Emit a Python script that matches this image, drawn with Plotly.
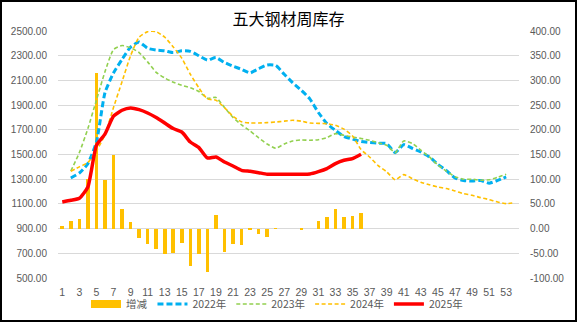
import plotly.graph_objects as go

weeks_2022 = list(range(2, 54))
inv_2022 = [1310, 1350, 1426, 1600, 2000, 2160, 2270, 2370, 2410, 2360, 2345, 2340, 2325,
            2340, 2335, 2300, 2265, 2285, 2245, 2215, 2190, 2160, 2195, 2225, 2222, 2150,
            2080, 2020, 1950, 1840, 1750, 1695, 1645, 1625, 1605, 1597, 1592, 1588, 1515,
            1580, 1550, 1520, 1480, 1420, 1370, 1310, 1290, 1285, 1290, 1268, 1290, 1318]

weeks_2023 = list(range(2, 54))
inv_2023 = [1366, 1515, 1710, 1940, 2170, 2350, 2382, 2365, 2325, 2250, 2165, 2120, 2085,
            2060, 2040, 2010, 1955, 1962, 1880, 1800, 1740, 1690, 1635, 1585, 1550, 1585,
            1610, 1618, 1615, 1620, 1637, 1669, 1655, 1642, 1630, 1615, 1595, 1575, 1515,
            1610, 1590, 1535, 1480, 1415, 1365, 1320, 1300, 1300, 1292, 1295, 1315, 1340]

weeks_2024 = list(range(2, 55))
inv_2024 = [1365, 1400, 1435, 1530, 1660, 1880, 2090, 2300, 2450, 2495, 2495, 2450, 2371,
            2280, 2150, 2040, 1950, 1940, 1880, 1810, 1765, 1755, 1755, 1758, 1763, 1770,
            1777, 1770, 1755, 1752, 1750, 1736, 1705, 1650, 1540, 1480, 1410, 1360, 1295,
            1337, 1305, 1275, 1255, 1237, 1224, 1205, 1183, 1170, 1151, 1135, 1115, 1102, 1110]

weeks_2025 = list(range(1, 37))
inv_2025 = [1115, 1129, 1145, 1237, 1574, 1665, 1810, 1858, 1877, 1863, 1836, 1799, 1755,
            1710, 1682, 1601, 1556, 1472, 1480, 1439, 1407, 1372, 1364, 1353, 1340, 1340,
            1340, 1340, 1340, 1342, 1361, 1386, 1426, 1453, 1467, 1502]
change_2025 = [5, 16, 19, 101, 316, 99, 150, 40, 13, -19, -31, -41, -51, -49, -30, -76, -51,
               -88, 27, -47, -32, -33, -3, -10, -17, 1, 0, 0, -1, 0, 16, 23, 39, 24, 25, 31]

x_ticks = list(range(1, 54, 2))
left_ticks = list(range(500, 2501, 200))
right_ticks = list(range(-100, 401, 50))

title_text = "五大钢材周库存"
names = ["增减", "2022年", "2023年", "2024年", "2025年"]

GRAY = "#595959"
BAR_COLOR = "#FFC000"
fig = go.Figure()

fig.add_trace(go.Bar(x=weeks_2025, y=change_2025, name=names[0], marker_color=BAR_COLOR,
                     marker_line_width=0, width=0.42, yaxis="y", showlegend=False))
# legend-only entry giving the wide rectangle key of the column series
fig.add_trace(go.Scatter(x=[None], y=[None], name=names[0], mode="lines", yaxis="y",
                         line=dict(color=BAR_COLOR, width=8)))
fig.add_trace(go.Scatter(x=weeks_2022, y=inv_2022, name=names[1], mode="lines", yaxis="y2",
                         line=dict(color="#00B0F0", width=3, dash="6px,3px", shape="spline", smoothing=0.5)))
fig.add_trace(go.Scatter(x=weeks_2023, y=inv_2023, name=names[2], mode="lines", yaxis="y2",
                         line=dict(color="#92D050", width=1.6, dash="4px,2.5px", shape="spline", smoothing=0.5)))
fig.add_trace(go.Scatter(x=weeks_2024, y=inv_2024, name=names[3], mode="lines", yaxis="y2",
                         line=dict(color="#FFC000", width=1.6, dash="4px,2.5px", shape="spline", smoothing=0.5)))
fig.add_trace(go.Scatter(x=weeks_2025, y=inv_2025, name=names[4], mode="lines", yaxis="y2",
                         line=dict(color="#FF0000", width=3.5, shape="spline", smoothing=0.5)))

ML, MR, MT, MB = 58, 58, 31, 44
W, H = 577, 322
PW, PH = W - ML - MR, H - MT - MB

fig.update_layout(
    width=W, height=H,
    margin=dict(l=ML, r=MR, t=MT, b=MB, pad=0, autoexpand=False),
    paper_bgcolor="white", plot_bgcolor="white",
    font=dict(family="Liberation Sans", size=10, color=GRAY),
    title=dict(text=title_text, x=0.5, xanchor="center", y=1 - 19 / H, yanchor="middle",
               font=dict(family="Noto Sans CJK SC", size=16, color="black")),
    showlegend=True,
    legend=dict(orientation="h", x=0.475, xanchor="center", y=-(303 - 277) / PH, yanchor="middle",
                font=dict(family="Noto Sans CJK SC", size=10.5, color=GRAY),
                itemwidth=30, tracegroupgap=0, bgcolor="rgba(0,0,0,0)"),
    bargap=0,
    xaxis=dict(range=[0.5, 54.5], tickmode="array", tickvals=x_ticks, ticktext=[str(t) for t in x_ticks],
               showgrid=False, zeroline=False, showline=False, ticks="", automargin=False,
               tickfont=dict(family="Liberation Sans", size=10.5, color=GRAY), ticklabelstandoff=6),
    yaxis=dict(range=[-100, 400], tickmode="array", tickvals=right_ticks,
               ticktext=[f"{v:.2f}" for v in right_ticks], side="right", automargin=False,
               showgrid=True, gridcolor="#D9D9D9", gridwidth=1, zeroline=False, showline=False,
               ticks="", ticklabelstandoff=10, tickfont=dict(size=10, color=GRAY)),
    yaxis2=dict(range=[500, 2500], tickmode="array", tickvals=left_ticks, automargin=False,
                ticktext=[f"{v:.2f}" for v in left_ticks], side="left", overlaying="y",
                showgrid=False, zeroline=False, showline=False, ticks="", ticklabelstandoff=10,
                tickfont=dict(size=10, color=GRAY)),
    shapes=[dict(type="rect", xref="paper", yref="paper",
                 x0=-(ML - 1) / PW, x1=1 + (MR - 1) / PW,
                 y0=-(MB - 1) / PH, y1=1 + (MT - 1) / PH,
                 line=dict(color="black", width=2), fillcolor="rgba(0,0,0,0)", layer="above")],
)

fig.write_html("out.html")
